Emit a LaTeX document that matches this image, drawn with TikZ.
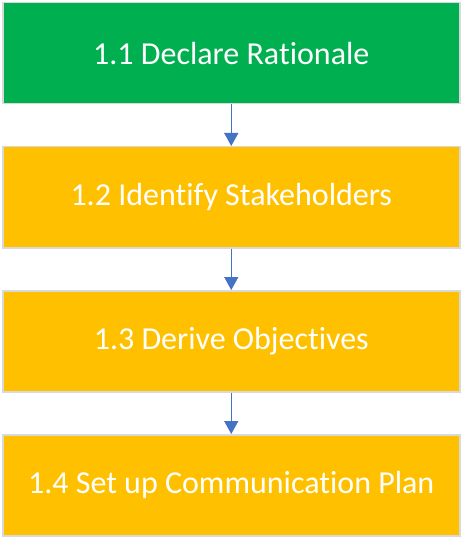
\documentclass[tikz,border=0pt]{standalone}
\usepackage{fontspec}
\setmainfont{Carlito}[Ligatures=NoCommon]
\usetikzlibrary{arrows.meta}
\definecolor{boxgreen}{HTML}{00B050}
\definecolor{boxorange}{HTML}{FFC000}
\definecolor{boxedge}{HTML}{D9D9D9}
\definecolor{arrowblue}{HTML}{4472C4}
\tikzset{
  stepbox/.style={draw=boxedge, line width=1.5pt, minimum width=457pt, minimum height=101pt,
    inner sep=0pt, text=white, font=\fontsize{32}{36}\selectfont, anchor=north west},
  greenbox/.style={stepbox, fill=boxgreen},
  orangebox/.style={stepbox, fill=boxorange},
  link/.style={draw=arrowblue, line width=1.5pt, -{Triangle[width=14pt,length=13pt]}}
}
\begin{document}
\begin{tikzpicture}[x=1pt,y=-1pt]
\useasboundingbox (0,0) rectangle (461,537);
\node[greenbox] (a) at (2,2) {1.1 Declare Rationale};
\node[orangebox] (b) at (2,146) {1.2 Identify Stakeholders};
\node[orangebox] (c) at (2,290) {1.3 Derive Objectives};
\node[orangebox] (d) at (2,434) {1.4 Set up Communication Plan};
\draw[link] (a.south) -- (b.north);
\draw[link] (b.south) -- (c.north);
\draw[link] (c.south) -- (d.north);
\end{tikzpicture}
\end{document}
